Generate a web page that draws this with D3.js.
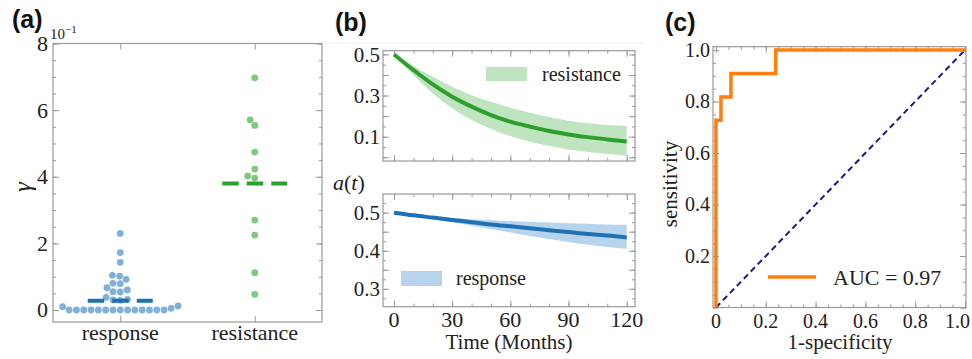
<!DOCTYPE html>
<html>
<head>
<meta charset="utf-8">
<script src="https://cdn.jsdelivr.net/npm/d3@7"></script>
<style>
body { margin: 0; background: #fff; }
svg text { font-family: "Liberation Serif", "Times New Roman", serif; fill: #222; }
.panel-label { font-family: "Liberation Sans", Arial, sans-serif !important; font-weight: bold; fill: #111; }
.tick line { stroke: #999; }
.frame { fill: none; stroke: #9a9a9a; stroke-width: 1.2; }
</style>
</head>
<body>
<div id="chart"></div>
<script>
// panel (a): gamma per patient group
const groups = ["response", "resistance"];
const responseGamma = [0.230, 0.172, 0.143, 0.104, 0.102, 0.092, 0.080, 0.079, 0.067, 0.060, 0.055, 0.054,
    0.038, 0.032, 0.030, 0.029, 0.012, 0.010, 0.005,
    0, 0, 0, 0, 0, 0, 0, 0, 0, 0, 0, 0, 0, 0];
const resistanceGamma = [0.697, 0.571, 0.554, 0.474, 0.423, 0.402, 0.396, 0.270, 0.225, 0.112, 0.047];
const groupMeans = [0.028, 0.380];
const gammaTicks = [0, 0.2, 0.4, 0.6, 0.8];
const gammaTickLabels = ["0", "2", "4", "6", "8"];

// panel (b): a(t) over time, mean line and band
const months = [0, 10, 20, 30, 40, 50, 60, 70, 80, 90, 100, 110, 120];
const resistanceMid = [0.500, 0.424, 0.354, 0.294, 0.246, 0.205, 0.173, 0.149, 0.128, 0.111, 0.098, 0.087, 0.077];
const resistanceHigh = [0.500, 0.445, 0.391, 0.343, 0.302, 0.270, 0.241, 0.217, 0.196, 0.178, 0.165, 0.157, 0.152];
const resistanceLow = [0.500, 0.400, 0.311, 0.238, 0.181, 0.137, 0.103, 0.076, 0.055, 0.038, 0.026, 0.016, 0.008];
const responseMid = [0.500, 0.493, 0.487, 0.481, 0.475, 0.469, 0.464, 0.459, 0.454, 0.449, 0.444, 0.440, 0.435];
const responseHigh = [0.500, 0.495, 0.490, 0.486, 0.483, 0.480, 0.478, 0.476, 0.474, 0.472, 0.471, 0.469, 0.468];
const responseLow = [0.500, 0.491, 0.483, 0.475, 0.466, 0.457, 0.448, 0.439, 0.431, 0.423, 0.416, 0.410, 0.405];
const monthTicks = [0, 30, 60, 90, 120];
const topTicks = [0.1, 0.3, 0.5];
const bottomTicks = [0.3, 0.4, 0.5];

// panel (c): ROC curve
const rocFpr = [0, 0, 0.02, 0.02, 0.06, 0.06, 0.24, 0.24, 1.0];
const rocTpr = [0, 0.727, 0.727, 0.818, 0.818, 0.909, 0.909, 1.0, 1.0];
const chanceLine = [0, 1];
const rocTicks = [0, 0.2, 0.4, 0.6, 0.8, 1.0];
const aucText = "AUC = 0.97";

const width = 972, height = 359;
const serif = "'Liberation Serif', 'Times New Roman', serif";

let svg = d3.select("#chart")
    .append("svg")
    .attr("width", width)
    .attr("height", height)
    .attr("font-family", serif);

// draws a frame with inward ticks on all four sides
function drawFrame(x, y, xMinor, yMinor, xMajor, yMajor) {
    let g = svg.append("g");
    let [x0, x1] = x.range();
    let [y0, y1] = y.range();
    let sides = [
        [d3.axisBottom, x, xMinor, xMajor, "translate(0," + y0 + ")"],
        [d3.axisTop, x, xMinor, xMajor, "translate(0," + y1 + ")"],
        [d3.axisLeft, y, yMinor, yMajor, "translate(" + x0 + ",0)"],
        [d3.axisRight, y, yMinor, yMajor, "translate(" + x1 + ",0)"]
    ];
    sides.forEach(function(s) {
        // minor then major ticks, pointing inwards
        [[s[2], -3], [s[3], -6]].forEach(function(t) {
            if (!t[0].length) return;
            g.append("g").attr("transform", s[4])
                .call(s[0](s[1]).tickValues(t[0]).tickSize(t[1]).tickFormat(""))
                .call(a => a.select(".domain").remove());
        });
    });
    g.append("rect").attr("class", "frame")
        .attr("x", x0).attr("y", y1)
        .attr("width", x1 - x0).attr("height", y0 - y1);
    return g;
}

// tick labels on the left or bottom
function leftLabels(y, x0, ticks, fmt, size) {
    svg.append("g").selectAll("text").data(ticks).join("text")
        .attr("x", x0).attr("y", d => y(d))
        .attr("dy", "0.34em")
        .attr("text-anchor", "end")
        .style("font-size", size + "px")
        .text((d, i) => fmt(d, i));
}
function bottomLabels(x, yb, ticks, fmt, size) {
    return svg.append("g").selectAll("text").data(ticks).join("text")
        .attr("x", d => x(d)).attr("y", yb)
        .attr("text-anchor", "middle")
        .style("font-size", size + "px")
        .text((d, i) => fmt(d, i));
}

// simple beeswarm: ascending values, smallest offset that doesn't overlap
function swarm(values, y, diam) {
    let placed = [];
    values.slice().sort(d3.ascending).forEach(function(v) {
        let py = y(v);
        let cands = [0];
        placed.forEach(function(p) {
            let dy = Math.abs(p.y - py);
            if (dy < diam) {
                let dx = Math.sqrt(diam * diam - dy * dy);
                cands.push(p.dx - dx, p.dx + dx);
            }
        });
        cands.sort((a, b) => Math.abs(a) - Math.abs(b) || a - b);
        let dx = cands.find(c => placed.every(p => (p.dx - c) ** 2 + (p.y - py) ** 2 >= diam * diam - 0.01));
        placed.push({v: v, y: py, dx: dx});
    });
    return placed;
}

// ---------- panel (a) ----------
let xA = d3.scalePoint().domain(groups).range([53, 322]).padding(0.5);
let yA = d3.scaleLinear().domain([-0.036, 0.8]).range([322, 43.5]);

drawFrame(d3.scaleLinear().range([53, 322]), yA,
    [], d3.range(0, 0.801, 0.05), [], gammaTicks);
// category ticks top and bottom
svg.append("g").attr("transform", "translate(0,322)")
    .call(d3.axisBottom(xA).tickSize(-6).tickFormat(""))
    .call(a => a.select(".domain").remove());
svg.append("g").attr("transform", "translate(0,43.5)")
    .call(d3.axisTop(xA).tickSize(-6).tickFormat(""))
    .call(a => a.select(".domain").remove());

leftLabels(yA, 48, gammaTicks, (d, i) => gammaTickLabels[i], 22);
bottomLabels(xA, 340, groups, d => d, 22);

let expLabel = svg.append("text").attr("x", 50).attr("y", 39).style("font-size", "15px");
expLabel.append("tspan").text("10");
expLabel.append("tspan").attr("dy", -6).style("font-size", "11px").text("\u22121");

svg.append("text")
    .attr("transform", "translate(31,187) rotate(-90)")
    .attr("text-anchor", "middle")
    .style("font-size", "25px").style("font-style", "italic")
    .text("\u03b3");

let groupData = [
    {name: "response", values: responseGamma, dot: "#7fb1da", dash: "#1f6fb2"},
    {name: "resistance", values: resistanceGamma, dot: "#7dc97d", dash: "#2ca02c"}
];
groupData.forEach(function(gd, i) {
    let pts = swarm(gd.values, yA, 7.3);
    svg.append("g").selectAll("circle").data(pts).join("circle")
        .attr("cx", d => xA(gd.name) + d.dx)
        .attr("cy", d => d.y)
        .attr("r", 3.4)
        .attr("fill", gd.dot);
    svg.append("line")
        .attr("x1", xA(gd.name) - 32.5).attr("x2", xA(gd.name) + 32.5)
        .attr("y1", yA(groupMeans[i])).attr("y2", yA(groupMeans[i]))
        .attr("stroke", gd.dash)
        .attr("stroke-width", 4)
        .attr("stroke-dasharray", "16.5,8");
});

// ---------- panel (b) ----------
svg.append("line").attr("x1", 325).attr("x2", 645).attr("y1", 43).attr("y2", 43)
    .attr("stroke", "#eeeeee").attr("stroke-width", 1);

let xB = d3.scaleLinear().domain([-5.7, 124.3]).range([383, 635]);
let yBt = d3.scaleLinear().domain([-0.018, 0.518]).range([161, 50.7]);
let yBb = d3.scaleLinear().domain([0.253, 0.549]).range([306.7, 194]);

drawFrame(xB, yBt, d3.range(0, 121, 10), d3.range(0, 0.51, 0.05), monthTicks, d3.range(0, 0.51, 0.1));
drawFrame(xB, yBb, d3.range(0, 121, 10), d3.range(0.275, 0.549, 0.025), monthTicks, d3.range(0.3, 0.51, 0.05));

leftLabels(yBt, 380, topTicks, d => d3.format(".1f")(d), 21);
leftLabels(yBb, 380, bottomTicks, d => d3.format(".1f")(d), 21);
bottomLabels(xB, 327, monthTicks, d => d, 22);

svg.append("text").attr("x", 509).attr("y", 349)
    .attr("text-anchor", "middle").style("font-size", "21px")
    .text("Time (Months)");

let atLabel = svg.append("text").attr("x", 333).attr("y", 190).style("font-size", "22px");
atLabel.append("tspan").style("font-style", "italic").text("a");
atLabel.append("tspan").text("(");
atLabel.append("tspan").style("font-style", "italic").text("t");
atLabel.append("tspan").text(")");

let bandSets = [
    {y: yBt, mid: resistanceMid, low: resistanceLow, high: resistanceHigh, line: "#2ca02c", band: "#bfe4bf"},
    {y: yBb, mid: responseMid, low: responseLow, high: responseHigh, line: "#1f70b4", band: "#b7d4ec"}
];
bandSets.forEach(function(b) {
    let area = d3.area()
        .x((d, i) => xB(months[i]))
        .y0((d, i) => b.y(b.low[i]))
        .y1((d, i) => b.y(b.high[i]))
        .curve(d3.curveMonotoneX);
    let line = d3.line()
        .x((d, i) => xB(months[i]))
        .y(d => b.y(d))
        .curve(d3.curveMonotoneX);
    svg.append("path").datum(months).attr("d", area).attr("fill", b.band);
    svg.append("path").datum(b.mid).attr("d", line)
        .attr("fill", "none").attr("stroke", b.line).attr("stroke-width", 4);
});

// legends
svg.append("rect").attr("x", 486).attr("y", 67).attr("width", 41).attr("height", 14).attr("fill", "#bfe4bf");
svg.append("text").attr("x", 542).attr("y", 81).style("font-size", "20px").text("resistance");
svg.append("rect").attr("x", 401).attr("y", 271).attr("width", 41).attr("height", 15).attr("fill", "#b7d4ec");
svg.append("text").attr("x", 456).attr("y", 284.5).style("font-size", "20px").text("response");

// ---------- panel (c) ----------
let xC = d3.scaleLinear().domain([-0.012, 1.004]).range([713, 966]);
let yC = d3.scaleLinear().domain([0, 1.013]).range([307.5, 46.7]);

drawFrame(xC, yC, d3.range(0, 1.001, 0.05), d3.range(0, 1.001, 0.05), rocTicks, rocTicks);
leftLabels(yC, 710, rocTicks.slice(1), d => d3.format(".1f")(d), 20);
// last label kept inside the window, like the original
bottomLabels(xC, 328, rocTicks, d => d === 0 ? "0" : d3.format(".1f")(d), 20)
    .filter(d => d === 1.0)
    .attr("text-anchor", "end")
    .attr("x", 970);

svg.append("text").attr("x", 840).attr("y", 349)
    .attr("text-anchor", "middle").style("font-size", "21px")
    .text("1-specificity");
svg.append("text")
    .attr("transform", "translate(677,184) rotate(-90)")
    .attr("text-anchor", "middle").style("font-size", "21px")
    .text("sensitivity");

svg.append("path").datum(chanceLine)
    .attr("d", d3.line().x(d => xC(d)).y(d => yC(d)))
    .attr("fill", "none").attr("stroke", "#1c1c85")
    .attr("stroke-width", 2).attr("stroke-dasharray", "6,4");

svg.append("path").datum(rocFpr)
    .attr("d", d3.line().x(d => xC(d)).y((d, i) => yC(rocTpr[i])))
    .attr("fill", "none").attr("stroke", "#ff7f0e")
    .attr("stroke-width", 3.5);

svg.append("line").attr("x1", 768).attr("x2", 816).attr("y1", 277).attr("y2", 277)
    .attr("stroke", "#ff7f0e").attr("stroke-width", 3.5);
svg.append("text").attr("x", 833).attr("y", 285).style("font-size", "22px").text(aucText);

// panel letters
[["(a)", 12, 28], ["(b)", 335, 31], ["(c)", 665, 31]].forEach(function(p) {
    svg.append("text").attr("class", "panel-label")
        .attr("x", p[1]).attr("y", p[2])
        .style("font-size", "25px")
        .text(p[0]);
});
</script>
</body>
</html>
